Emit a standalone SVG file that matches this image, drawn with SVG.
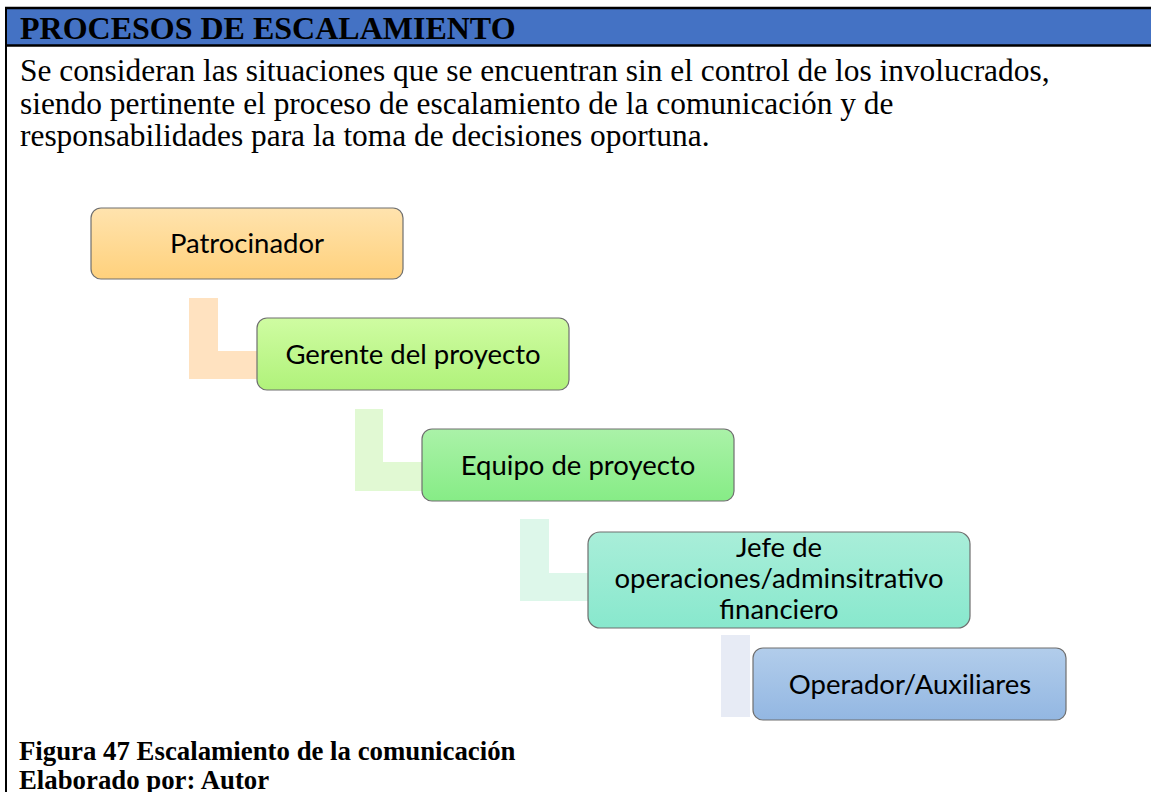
<svg xmlns="http://www.w3.org/2000/svg" width="1151" height="792" viewBox="0 0 1151 792">
<defs>
<linearGradient id="gOrange" x1="0" y1="0" x2="0" y2="1"><stop offset="0" stop-color="#FFE3AE"/><stop offset="1" stop-color="#FFD17C"/></linearGradient>
<linearGradient id="gLime" x1="0" y1="0" x2="0" y2="1"><stop offset="0" stop-color="#CFFCA2"/><stop offset="1" stop-color="#B0F27A"/></linearGradient>
<linearGradient id="gGreen" x1="0" y1="0" x2="0" y2="1"><stop offset="0" stop-color="#AAF2A8"/><stop offset="1" stop-color="#86EC86"/></linearGradient>
<linearGradient id="gTeal" x1="0" y1="0" x2="0" y2="1"><stop offset="0" stop-color="#A9EED9"/><stop offset="1" stop-color="#88E8CD"/></linearGradient>
<linearGradient id="gBlue" x1="0" y1="0" x2="0" y2="1"><stop offset="0" stop-color="#B2CDEB"/><stop offset="1" stop-color="#93B7E2"/></linearGradient>
</defs>
<style>
.box{stroke:#6f6f6f;stroke-width:1.2}
.lbl{font-family:Lato,"Open Sans","Liberation Sans",sans-serif;font-size:27.5px;fill:#000;text-anchor:middle}
.serif{font-family:"Liberation Serif","Times New Roman",serif;fill:#000}
</style>
<rect x="0" y="0" width="1151" height="792" fill="#ffffff"/>
<!-- frame -->
<rect x="7" y="9" width="1144" height="36" fill="#4472C4"/>
<line x1="5" y1="8" x2="1151" y2="8" stroke="#000" stroke-width="2.5"/>
<line x1="5" y1="45.5" x2="1151" y2="45.5" stroke="#000" stroke-width="2.5"/>
<line x1="6" y1="7" x2="6" y2="792" stroke="#000" stroke-width="2"/>
<text class="serif" x="20" y="39" font-size="32" font-weight="bold">PROCESOS DE ESCALAMIENTO</text>
<text class="serif" font-size="31.4"><tspan x="20" y="81">Se consideran las situaciones que se encuentran sin el control de los involucrados,</tspan><tspan x="20" y="114">siendo pertinente el proceso de escalamiento de la comunicación y de</tspan><tspan x="20" y="146">responsabilidades para la toma de decisiones oportuna.</tspan></text>
<!-- connectors -->
<g id="connectors">
<path d="M189 298 H218 V351 H258 V379 H189 Z" fill="#FFE2C0"/>
<path d="M355 409 H383 V462 H423 V491 H355 Z" fill="#E1F9D3"/>
<path d="M520 519 H549 V573 H589 V601 H520 Z" fill="#DDF7EA"/>
<path d="M721 635 H750 V717 H721 Z" fill="#E7EBF5"/>
</g>
<g id="n1"><rect class="box" x="91" y="208" width="312" height="71" rx="10" fill="url(#gOrange)"/><text class="lbl" x="247" y="253">Patrocinador</text></g>
<g id="n2"><rect class="box" x="257" y="318" width="312" height="72" rx="10" fill="url(#gLime)"/><text class="lbl" x="413" y="364">Gerente del proyecto</text></g>
<g id="n3"><rect class="box" x="422" y="429" width="312" height="72" rx="10" fill="url(#gGreen)"/><text class="lbl" x="578" y="475">Equipo de proyecto</text></g>
<g id="n4"><rect class="box" x="588" y="532" width="382" height="96" rx="12" fill="url(#gTeal)"/><text class="lbl"><tspan x="779" y="557">Jefe de</tspan><tspan x="779" y="588">operaciones/adminsitrativo</tspan><tspan x="779" y="619">financiero</tspan></text></g>
<g id="n5"><rect class="box" x="753" y="648" width="313" height="72" rx="10" fill="url(#gBlue)"/><text class="lbl" x="910" y="694">Operador/Auxiliares</text></g>
<text class="serif" x="19" y="760" font-size="26.8" font-weight="bold">Figura 47 Escalamiento de la comunicación</text>
<text class="serif" x="19" y="789" font-size="26.8" font-weight="bold">Elaborado por: Autor</text>
</svg>
